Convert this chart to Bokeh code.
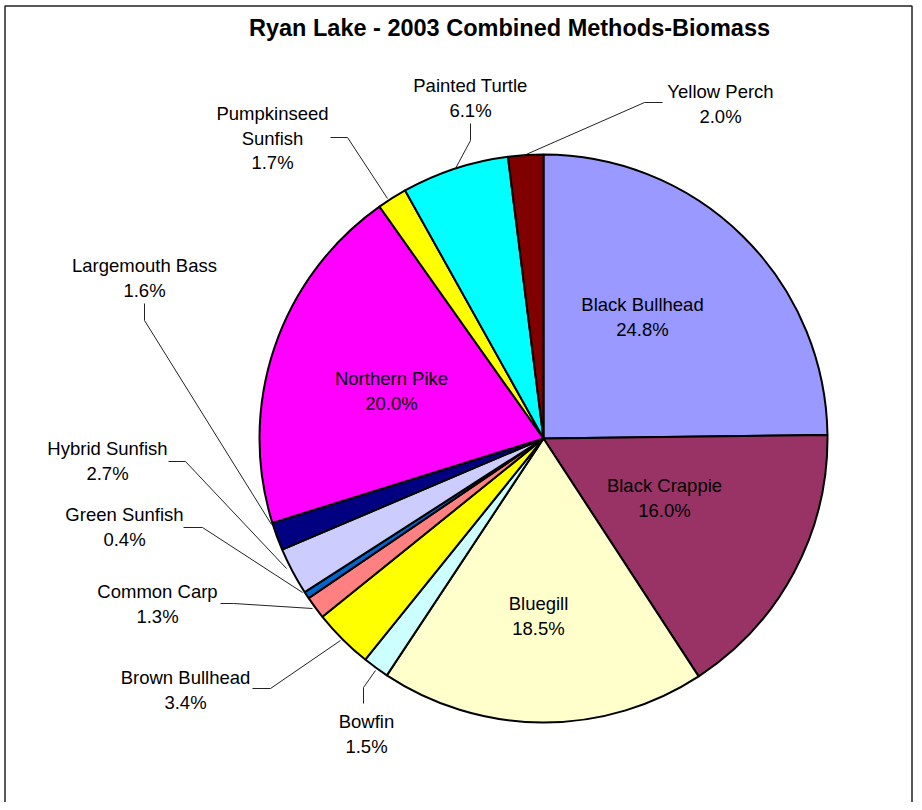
import numpy as np
from bokeh.plotting import figure
from bokeh.models import Range1d, ColumnDataSource
from bokeh.core.properties import value
from bokeh.embed import file_html
from bokeh.resources import INLINE

# ---------------- data ----------------
species = ["Black Bullhead", "Black Crappie", "Bluegill", "Bowfin", "Brown Bullhead",
           "Common Carp", "Green Sunfish", "Hybrid Sunfish", "Largemouth Bass",
           "Northern Pike", "Pumpkinseed Sunfish", "Painted Turtle", "Yellow Perch"]
percent = [24.8, 16.0, 18.5, 1.5, 3.4, 1.3, 0.4, 2.7, 1.6, 20.0, 1.7, 6.1, 2.0]
colors = ["#9999FF", "#993366", "#FFFFCC", "#CCFFFF", "#FFFF00", "#FF8080", "#0066CC",
          "#CCCCFF", "#000080", "#FF00FF", "#FFFF00", "#00FFFF", "#800000"]
title = "Ryan Lake - 2003 Combined Methods-Biomass"

# ---------------- layout (pixel coordinates, y down) ----------------
W, H = 914, 802
def Y(py):
    return H - py

CX, CY, R = 543, 438, 284
FONT = "Liberation Sans"
LINE_H = 24.5

# label placement: (center x, first line center y)
label_pos = {
    "Black Bullhead": (642, 304),
    "Black Crappie": (664, 485),
    "Bluegill": (538, 603),
    "Bowfin": (366, 721),
    "Brown Bullhead": (185, 677),
    "Common Carp": (157, 591),
    "Green Sunfish": (124, 514),
    "Hybrid Sunfish": (107, 448),
    "Largemouth Bass": (144, 265),
    "Northern Pike": (391, 378),
    "Pumpkinseed Sunfish": (272, 113),
    "Painted Turtle": (470, 85),
    "Yellow Perch": (720, 91),
}
name_breaks = {"Pumpkinseed Sunfish": "Pumpkinseed\nSunfish"}

leaders = {
    "Yellow Perch": [(662, 102), (644, 102), (521, 156)],
    "Painted Turtle": [(470, 123), (470, 140), (455, 168)],
    "Pumpkinseed Sunfish": [(330, 137), (347, 137), (387, 198)],
    "Largemouth Bass": [(144, 303), (144, 320), (271, 524)],
    "Hybrid Sunfish": [(168, 461), (185, 461), (286, 568)],
    "Green Sunfish": [(183, 527), (202, 527), (302, 592)],
    "Common Carp": [(220, 603), (233, 603), (312, 608)],
    "Brown Bullhead": [(252, 688), (270, 688), (340, 640)],
    "Bowfin": [(363, 703), (363, 687), (375, 670)],
}

# ---------------- figure ----------------
p = figure(width=W, height=H, output_backend="svg", toolbar_location=None,
           x_range=Range1d(0, W), y_range=Range1d(0, H), min_border=0)
p.axis.visible = False
p.grid.visible = False
p.outline_line_color = None
p.background_fill_color = "white"
p.border_fill_color = "white"

# border (left, top, right)
p.line([4.5, 4.5, 911.5, 911.5], [Y(830), Y(5.5), Y(5.5), Y(830)],
       line_color="#222222", line_width=1.5)

# wedges
vals = np.array(percent, dtype=float)
cum = np.concatenate([[0.0], np.cumsum(vals)])
total = cum[-1]
start = np.pi / 2 - 2 * np.pi * cum[:-1] / total
end = np.pi / 2 - 2 * np.pi * cum[1:] / total
src = ColumnDataSource(dict(start=start, end=end, color=colors, name=species))
p.wedge(x=CX, y=Y(CY), radius=R, start_angle="start", end_angle="end",
        direction="clock", fill_color="color", line_color="black", line_width=2,
        source=src)

# leader lines
for nm, pts in leaders.items():
    xs = [q[0] for q in pts]
    ys = [Y(q[1]) for q in pts]
    p.line(xs, ys, line_color="#222222", line_width=1)

# labels
tx, ty, tt = [], [], []
for nm, pc in zip(species, percent):
    x0, y0 = label_pos[nm]
    lines = name_breaks.get(nm, nm).split("\n") + [f"{pc:.1f}%"]
    for k, s in enumerate(lines):
        tx.append(x0)
        ty.append(Y(y0 + k * LINE_H))
        tt.append(s)
p.text(x=tx, y=ty, text=tt, text_align="center", text_baseline="middle",
       text_font=value(FONT), text_font_size="18.5px", text_color="black")

# title
p.text(x=[509], y=[Y(27)], text=[title], text_align="center", text_baseline="middle",
       text_font=value(FONT), text_font_size="23.5px", text_font_style="bold",
       text_color="black")

open("out.html", "w").write(file_html(p, INLINE))
